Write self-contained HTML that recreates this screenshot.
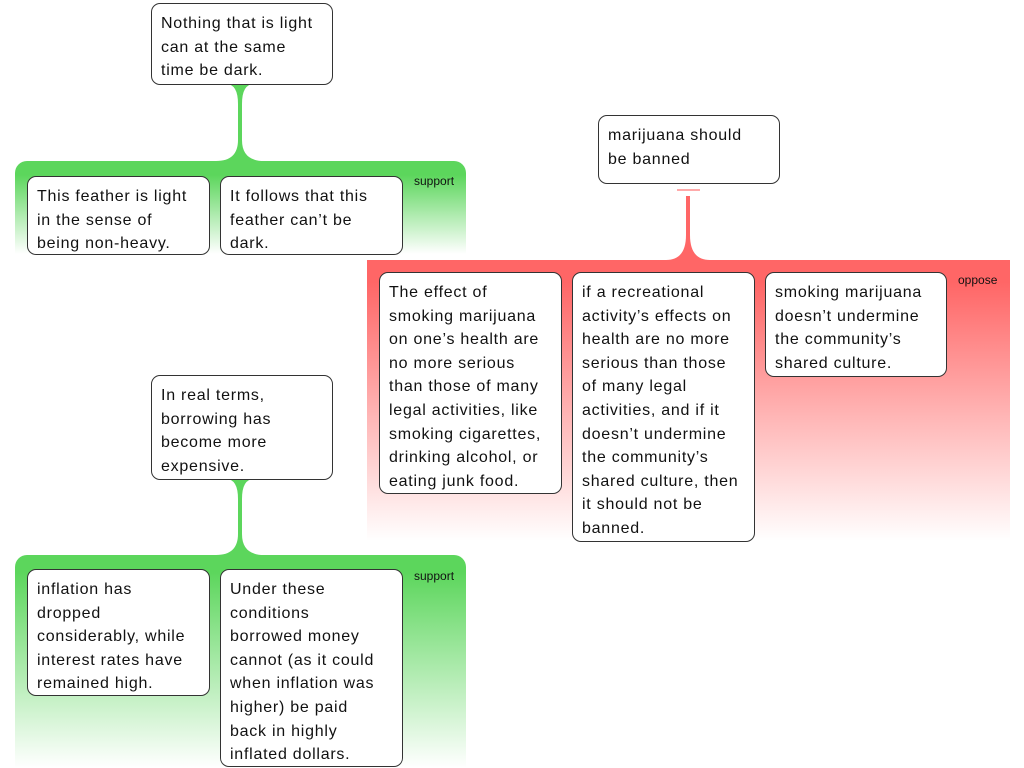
<!DOCTYPE html>
<html><head><meta charset="utf-8"><style>
body{margin:0;width:1024px;height:768px;position:relative;overflow:hidden;background:#fff;font-family:"Liberation Sans",sans-serif}
.b{position:absolute;background:#fff;border:1px solid #333;border-radius:9px;box-sizing:border-box;padding:8px 9px;font-size:16px;line-height:23.6px;color:#111;letter-spacing:0.75px;white-space:nowrap}
.g{position:absolute}
.lbl{position:absolute;font-size:12px;color:#111}
</style></head><body>
<div class="g" style="left:15px;top:161px;width:451px;height:93px;border-radius:12px 12px 0 0;background:linear-gradient(#5cd65c 0%,#5cd65c 15%,#fff 100%)"></div>
<div class="g" style="left:15px;top:555px;width:451px;height:213px;border-radius:12px 12px 0 0;background:linear-gradient(#5cd65c 0%,#5cd65c 8%,#fff 100%)"></div>
<div class="g" style="left:367px;top:260px;width:643px;height:281px;background:linear-gradient(#ff6666 0%,#ff6666 8%,#fff 100%)"></div>
<svg width="1024" height="768" style="position:absolute;left:0;top:0">
<path d="M226,84 Q238,84 238,104 L238,140 Q238,161 216,161 L264,161 Q242,161 242,140 L242,104 Q242,84 254,84Z" fill="#5cd65c"/>
<path d="M226,479 Q238,479 238,499 L238,534 Q238,555 216,555 L264,555 Q242,555 242,534 L242,499 Q242,479 254,479Z" fill="#5cd65c"/>
<path d="M686,196 L686,235 Q686,260 666,260 L710,260 Q690,260 690,235 L690,196Z" fill="#ff6666"/>
<rect x="677" y="189" width="23" height="2" fill="#ffaaaa"/>
</svg>
<div class="lbl" style="left:414px;top:174px">support</div>
<div class="lbl" style="left:414px;top:569px">support</div>
<div class="lbl" style="left:958px;top:273px">oppose</div>
<div class="b" style="left:151px;top:3px;width:182px;height:82px">Nothing that is light<br>can at the same<br>time be dark.</div>
<div class="b" style="left:27px;top:176px;width:183px;height:79px">This feather is light<br>in the sense of<br>being non-heavy.</div>
<div class="b" style="left:220px;top:176px;width:183px;height:79px">It follows that this<br>feather can’t be<br>dark.</div>
<div class="b" style="left:598px;top:115px;width:182px;height:69px">marijuana should<br>be banned</div>
<div class="b" style="left:379px;top:272px;width:183px;height:222px">The effect of<br>smoking marijuana<br>on one’s health are<br>no more serious<br>than those of many<br>legal activities, like<br>smoking cigarettes,<br>drinking alcohol, or<br>eating junk food.</div>
<div class="b" style="left:572px;top:272px;width:183px;height:270px">if a recreational<br>activity’s effects on<br>health are no more<br>serious than those<br>of many legal<br>activities, and if it<br>doesn’t undermine<br>the community’s<br>shared culture, then<br>it should not be<br>banned.</div>
<div class="b" style="left:765px;top:272px;width:182px;height:105px">smoking marijuana<br>doesn’t undermine<br>the community’s<br>shared culture.</div>
<div class="b" style="left:151px;top:375px;width:182px;height:105px">In real terms,<br>borrowing has<br>become more<br>expensive.</div>
<div class="b" style="left:27px;top:569px;width:183px;height:127px">inflation has<br>dropped<br>considerably, while<br>interest rates have<br>remained high.</div>
<div class="b" style="left:220px;top:569px;width:183px;height:198px">Under these<br>conditions<br>borrowed money<br>cannot (as it could<br>when inflation was<br>higher) be paid<br>back in highly<br>inflated dollars.</div>
</body></html>
